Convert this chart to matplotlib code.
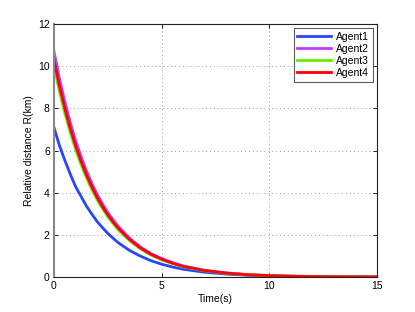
import matplotlib
matplotlib.use("Agg")
import matplotlib.pyplot as plt

# === Data ===
t = [0, 0.25, 0.5, 0.75, 1, 1.25, 1.5, 1.75, 2, 2.25, 2.5, 2.75, 3, 3.5, 4, 4.5, 5, 5.5, 6,
     7, 8, 9, 10, 11, 12, 13, 14, 15]
agent1 = [7.1, 6.25, 5.55, 4.9, 4.3, 3.84, 3.38, 3.0, 2.64, 2.35, 2.07, 1.84, 1.62,
          1.27, 1.0, 0.78, 0.61, 0.48, 0.37,
          0.23, 0.14, 0.085, 0.053, 0.032, 0.02, 0.012, 0.007, 0.005]
agent2 = [10.7, 9.45, 8.33, 7.36, 6.49, 5.74, 5.06, 4.47, 3.94, 3.48, 3.07, 2.71, 2.39,
          1.86, 1.44, 1.12, 0.88, 0.69, 0.53,
          0.32, 0.2, 0.12, 0.073, 0.044, 0.026, 0.016, 0.009, 0.006]
agent3 = [10.0, 8.82, 7.78, 6.87, 6.06, 5.35, 4.72, 4.17, 3.68, 3.25, 2.86, 2.53, 2.23,
          1.74, 1.35, 1.05, 0.82, 0.64, 0.49,
          0.30, 0.18, 0.11, 0.068, 0.041, 0.024, 0.015, 0.009, 0.006]
agent4 = [10.3, 9.09, 8.02, 7.08, 6.25, 5.52, 4.87, 4.30, 3.79, 3.35, 2.95, 2.61, 2.30,
          1.79, 1.39, 1.08, 0.85, 0.66, 0.51,
          0.31, 0.19, 0.11, 0.07, 0.042, 0.025, 0.015, 0.009, 0.006]

labels = ["Agent1", "Agent2", "Agent3", "Agent4"]
colors = ["#2846ff", "#c03cff", "#66ee00", "#ff0000"]
xticks = [0, 5, 10, 15]
yticks = [0, 2, 4, 6, 8, 10, 12]

plt.rcParams["font.family"] = ["Liberation Sans", "DejaVu Sans"]

fig = plt.figure(figsize=(4.15, 3.12), dpi=100)
ax = fig.add_axes([0.130, 0.112, 0.778, 0.811])

for y, lab, c in zip([agent1, agent2, agent3, agent4], labels, colors):
    ax.plot(t, y, color=c, lw=2.0, label=lab)

ax.set_xlim(0, 15)
ax.set_ylim(0, 12)
ax.set_xticks(xticks)
ax.set_yticks(yticks)
ax.grid(True, linestyle=(0, (1, 3)), color="#999999", linewidth=0.7)
ax.tick_params(direction="in", labelsize=7.5, length=3, width=0.6, top=True, right=True, pad=3)
for side in ["top", "right", "bottom"]:
    ax.spines[side].set_linewidth(0.8)
    ax.spines[side].set_color("#222222")
ax.spines["left"].set_linewidth(1.5)
ax.spines["left"].set_color("#888888")

ax.set_xlabel("Time(s)", fontsize=7.5, labelpad=2)
ax.set_ylabel("Relative distance R(km)", fontsize=7.5, labelpad=3)

leg = ax.legend(loc="upper right", fontsize=7.5, frameon=True, fancybox=False,
                handlelength=3.2, handletextpad=0.5, labelspacing=0.2,
                borderpad=0.35, borderaxespad=0.4)
leg.get_frame().set_edgecolor("#333333")
leg.get_frame().set_linewidth(0.8)

fig.savefig("out.png", dpi=100)
